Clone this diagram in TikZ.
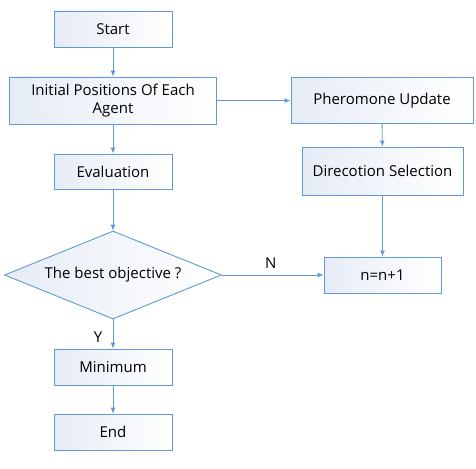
\documentclass[tikz,border=0pt]{standalone}
\usepackage{fontspec}
\setmainfont{Open Sans}
\usetikzlibrary{shapes.geometric,arrows.meta}
\definecolor{ln}{RGB}{98,153,210}
\definecolor{fl}{RGB}{230,236,246}
\tikzset{
  box/.style={draw=ln, line width=0.9pt, left color=fl, right color=white, minimum height=#1, inner sep=0pt, align=center, font=\fontsize{15}{18}\selectfont},
  dec/.style={draw=ln, line width=0.9pt, left color=fl, right color=white, diamond, aspect=2.466, minimum width=217pt, minimum height=88pt, inner sep=0pt, font=\fontsize{15}{18}\selectfont},
  arr/.style={draw=ln, line width=0.9pt, -{Latex[length=6pt,width=5pt]}},
  lab/.style={font=\fontsize{15}{18}\selectfont}
}
\begin{document}
\begin{tikzpicture}[x=1pt,y=-1pt]
\useasboundingbox (0,0) rectangle (476,468);
\node[box=36pt, minimum width=118pt] (start) at (113,29) {Start};
\node[box=47pt, minimum width=207pt] (init) at (113,100.5) {Initial Positions Of Each\\Agent};
\node[box=35pt, minimum width=118pt] (eval) at (113,171.5) {Evaluation};
\node[dec] (best) at (113,275) {The best objective ?};
\node[box=36pt, minimum width=118pt] (min) at (113,367) {Minimum};
\node[box=36pt, minimum width=118pt] (end) at (113,432) {End};
\node[box=46pt, minimum width=182pt] (pher) at (382,100.5) {Pheromone Update};
\node[box=48pt, minimum width=161pt] (dir) at (382.5,171) {Direcotion Selection};
\node[box=36pt, minimum width=117pt] (inc) at (382.5,275) {n=n+1};
\draw[arr] (start) -- (init);
\draw[arr] (init) -- (eval);
\draw[arr] (eval) -- (best);
\draw[arr] (best) -- (min);
\draw[arr] (min) -- (end);
\draw[arr] (init) -- (pher);
\draw[arr] (pher) -- (dir);
\draw[arr] (dir.south) -- (dir.south |- inc.north);
\draw[arr] (best) -- node[lab, above=3pt, pos=0.48] (n) {N} (inc);
\node[lab] (y) at (98,337) {Y};
\end{tikzpicture}
\end{document}
